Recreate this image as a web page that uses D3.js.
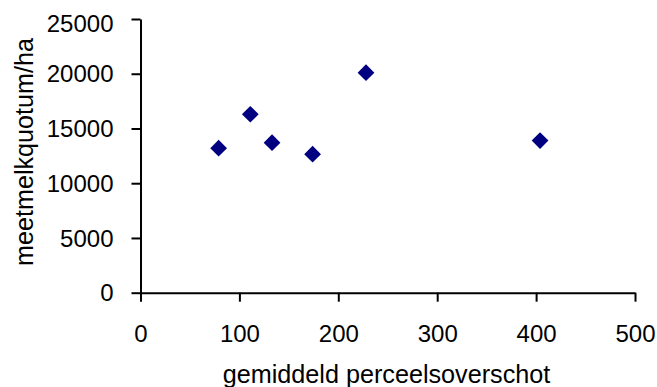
<!DOCTYPE html>
<html>
<head>
<meta charset="utf-8">
<script src="https://cdn.jsdelivr.net/npm/d3@7"></script>
<style>
  html, body { margin: 0; padding: 0; background: #fff; }
  svg { display: block; font-family: "Liberation Sans", Arial, sans-serif; }
</style>
</head>
<body>
<svg id="chart" width="657" height="387"></svg>
<script>
// Surplus per parcel vs. milk quota per hectare
const overschot = [79, 111, 133, 174, 228, 404];
const quotum = [13200, 16300, 13700, 12650, 20100, 13900];
const xTicks = [0, 100, 200, 300, 400, 500];
const yTicks = [0, 5000, 10000, 15000, 20000, 25000];
const xTitle = "gemiddeld perceelsoverschot";
const yTitle = "meetmelkquotum/ha";

const svg = d3.select("#chart");
const plotLeft = 140.5, plotRight = 635, plotTop = 19, plotBottom = 292.7;

const x = d3.scaleLinear().domain([0, 500]).range([plotLeft, plotRight]);
const y = d3.scaleLinear().domain([0, 25000]).range([plotBottom, plotTop]);

const tickFont = 24;
const titleFont = 25.2;

// x axis
const gx = svg.append("g")
  .attr("transform", `translate(0,${plotBottom})`)
  .call(d3.axisBottom(x).tickValues(xTicks).tickFormat(d3.format("d"))
    .tickSizeInner(9).tickSizeOuter(0).tickPadding(23));

// y axis
const gy = svg.append("g")
  .attr("transform", `translate(${plotLeft},0)`)
  .call(d3.axisLeft(y).tickValues(yTicks).tickFormat(d3.format("d"))
    .tickSizeInner(9).tickSizeOuter(0).tickPadding(18));

[gx, gy].forEach(g => {
  g.select(".domain").attr("stroke", "#000").attr("stroke-width", 2);
  g.selectAll(".tick line").attr("stroke", "#000").attr("stroke-width", 2);
  g.selectAll(".tick text")
    .attr("fill", "#000")
    .style("font-size", tickFont + "px")
    .style("font-family", "'Liberation Sans', Arial, sans-serif");
});
// keep the top y label inside the frame
gy.selectAll(".tick text")
  .attr("dy", d => (y(d) - 0.5 * tickFont * 0.72 < 15 ? "0.5em" : "0.34em"));

// diamond markers
svg.append("g")
  .selectAll("path")
  .data(overschot.map((v, i) => [v, quotum[i]]))
  .join("path")
  .attr("d", d3.symbol().type(d3.symbolSquare).size(140))
  .attr("transform", d => `translate(${x(d[0])},${y(d[1])}) rotate(45)`)
  .attr("fill", "#000080");

// axis titles
svg.append("text")
  .attr("x", 386.5)
  .attr("y", 383)
  .attr("text-anchor", "middle")
  .style("font-size", titleFont + "px")
  .attr("fill", "#000")
  .text(xTitle);

svg.append("text")
  .attr("transform", `translate(33,152) rotate(-90)`)
  .attr("text-anchor", "middle")
  .style("font-size", titleFont + "px")
  .attr("fill", "#000")
  .text(yTitle);
</script>
</body>
</html>
